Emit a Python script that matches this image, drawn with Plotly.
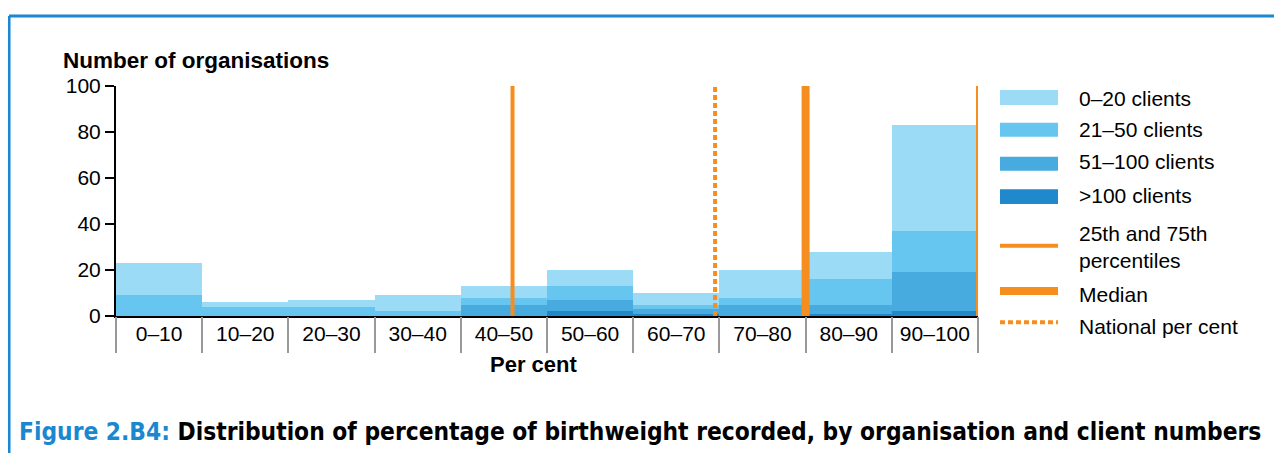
import plotly.graph_objects as go

# Datos
bins = ["0–10", "10–20", "20–30", "30–40", "40–50",
        "50–60", "60–70", "70–80", "80–90", "90–100"]
bin_centres = [5, 15, 25, 35, 45, 55, 65, 75, 85, 95]
bin_edges = [0, 10, 20, 30, 40, 50, 60, 70, 80, 90, 100]

clients_over_100 = [0, 0, 0, 0, 0, 2, 1, 0, 1, 2]
clients_51_100 = [0, 0, 0, 0, 5, 5, 2, 5, 4, 17]
clients_21_50 = [9, 4, 4, 2, 3, 6, 2, 3, 11, 18]
clients_0_20 = [14, 2, 3, 7, 5, 7, 5, 12, 12, 46]

pct_25 = 46
pct_median = 80
pct_75 = 100
national_pct = 69.5

y_ticks = [0, 20, 40, 60, 80, 100]

FONT = "Liberation Sans, Arial, sans-serif"
ORANGE = "#f68d1f"
BLUE_FRAME = "#1a88d0"

series = [
    (">100 clients", clients_over_100, "#2089cb"),
    ("51–100 clients", clients_51_100, "#47abe0"),
    ("21–50 clients", clients_21_50, "#66c6ef"),
    ("0–20 clients", clients_0_20, "#9cdbf6"),
]

fig = go.Figure()

# Barras apiladas (de abajo hacia arriba)
for name, vals, col in series:
    fig.add_trace(go.Bar(
        x=bin_centres, y=vals, width=10, name=name,
        marker=dict(color=col, line=dict(width=0)),
        showlegend=False,
    ))

# Líneas verticales: percentiles, mediana y porcentaje nacional
for xv, w, dash in [(pct_25, 4, "solid"), (pct_75, 4, "solid"),
                    (pct_median, 8, "solid"), (national_pct, 4, "5px,3px")]:
    fig.add_trace(go.Scatter(
        x=[xv, xv], y=[0, 100], mode="lines",
        line=dict(color=ORANGE, width=w, dash=dash),
        showlegend=False, hoverinfo="skip", cliponaxis=False,
    ))

fig.update_layout(
    width=1274, height=445,
    margin=dict(l=108, r=304, t=78, b=137),
    paper_bgcolor="white", plot_bgcolor="white",
    barmode="stack", bargap=0,
    font=dict(family=FONT, size=21, color="black"),
    xaxis=dict(
        range=[0, 100], tickvals=bin_centres, ticktext=bins,
        ticks="", showgrid=False, zeroline=False,
        showline=True, linecolor="black", linewidth=2,
        tickfont=dict(size=21), ticklabelstandoff=-2,
    ),
    xaxis2=dict(
        range=[0, 100], overlaying="x", anchor="y", side="bottom",
        tickvals=bin_edges, showticklabels=False,
        ticks="outside", ticklen=36, tickwidth=2, tickcolor="#999999",
        showgrid=False, zeroline=False, showline=False,
    ),
    yaxis=dict(
        range=[0, 100], tickvals=y_ticks, showgrid=False, zeroline=False,
        showline=True, linecolor="black", linewidth=2,
        ticks="outside", ticklen=9, tickwidth=2, tickcolor="black",
        tickfont=dict(size=21),
    ),
)

# traza invisible para que se dibuje el eje x2
fig.add_trace(go.Scatter(x=[0], y=[0], xaxis="x2", mode="markers",
                         marker=dict(opacity=0), showlegend=False,
                         hoverinfo="skip"))

# Títulos de ejes
fig.add_annotation(text="<b>Number of organisations</b>", xref="paper", yref="paper",
                   x=-0.064, y=1.109, xanchor="left", yanchor="middle",
                   showarrow=False, font=dict(size=22.5))
fig.add_annotation(text="<b>Per cent</b>", xref="paper", yref="paper",
                   x=0.484, y=-0.213, xanchor="center", yanchor="middle",
                   showarrow=False, font=dict(size=22))

# Leyenda personalizada
legend_swatches = [
    ("0–20 clients", "#9cdbf6", 0.9826, 0.9174, 0.9465),
    ("21–50 clients", "#66c6ef", 0.8404, 0.7796, 0.8087),
    ("51–100 clients", "#47abe0", 0.6926, 0.6317, 0.6709),
    (">100 clients", "#2089cb", 0.5509, 0.4870, 0.5230),
]
for label, col, y0, y1, ty in legend_swatches:
    fig.add_shape(type="rect", xref="paper", yref="paper",
                  x0=1.0255, x1=1.0928, y0=y1, y1=y0,
                  fillcolor=col, line=dict(width=0))
    fig.add_annotation(text=label, xref="paper", yref="paper", x=1.115, y=ty,
                       xanchor="left", yanchor="middle", showarrow=False,
                       font=dict(size=21))

legend_lines = [
    ("25th and 75th<br>percentiles", 4, "solid", 0.3057, 0.3009),
    ("Median", 8, "solid", 0.1087, 0.0943),
    ("National per cent", 4, "5px,3px", -0.0274, -0.0465),
]
for label, w, dash, ly, ty in legend_lines:
    fig.add_shape(type="line", xref="paper", yref="paper",
                  x0=1.0255, x1=1.0928, y0=ly, y1=ly,
                  line=dict(color=ORANGE, width=w, dash=dash))
    fig.add_annotation(text=label, xref="paper", yref="paper", x=1.115, y=ty,
                       xanchor="left", yanchor="middle", align="left",
                       showarrow=False, font=dict(size=21))

# Marco azul (arriba e izquierda)
fig.add_shape(type="line", xref="paper", yref="paper",
              x0=-0.1241, x1=1.36, y0=1.3043, y1=1.3043,
              line=dict(color=BLUE_FRAME, width=3))
fig.add_shape(type="line", xref="paper", yref="paper",
              x0=-0.1241, x1=-0.1241, y0=1.3043, y1=-0.62,
              line=dict(color=BLUE_FRAME, width=3))

# Pie de figura
fig.add_annotation(
    text=f"<b><span style='color:{BLUE_FRAME}'>Figure 2.B4:</span> "
         "Distribution of percentage of birthweight recorded, by organisation and client numbers</b>",
    xref="paper", yref="paper", x=-0.1149, y=-0.5, xanchor="left", yanchor="middle",
    showarrow=False,
    font=dict(family="DejaVu Sans Condensed, sans-serif", size=24.3, color="black"),
)

fig.write_html("out.html")
